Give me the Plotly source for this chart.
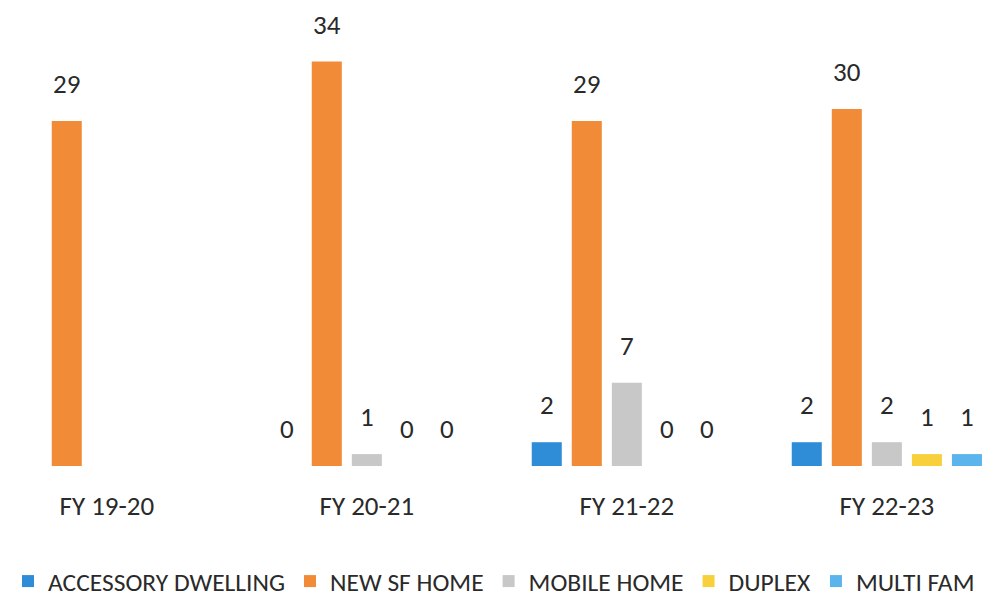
import plotly.graph_objects as go

categories = ["FY 19-20", "FY 20-21", "FY 21-22", "FY 22-23"]
series_names = ["ACCESSORY DWELLING", "NEW SF HOME", "MOBILE HOME", "DUPLEX", "MULTI FAM"]
accessory_dwelling = [None, 0, 2, 2]
new_sf_home = [29, 34, 29, 30]
mobile_home = [None, 1, 7, 2]
duplex = [None, 0, 0, 1]
multi_fam = [None, 0, 0, 1]
series_values = [accessory_dwelling, new_sf_home, mobile_home, duplex, multi_fam]
colors = ["#2F8DD8", "#F28B38", "#C8C8C8", "#F7D03C", "#5CB4EC"]

FONT = "Carlito, Calibri, Liberation Sans Narrow, PT Sans Narrow, Roboto Condensed, Liberation Sans, sans-serif"
TEXT_COLOR = "#2a2a2a"
BARGAP = 0.23
BARGROUPGAP = 0.25

xs = list(range(len(categories)))
fig = go.Figure()
for name, vals, col in zip(series_names, series_values, colors):
    fig.add_trace(go.Bar(x=xs, y=vals, name=name, marker=dict(color=col, line=dict(width=0))))

n = len(series_names)
slot = (1 - BARGAP) / n
annotations = []
for j, vals in enumerate(series_values):
    for i, v in enumerate(vals):
        if v is None:
            continue
        annotations.append(dict(
            x=i + (j - (n - 1) / 2) * slot, y=v, xref="x", yref="y",
            text=str(v), showarrow=False, yanchor="bottom", yshift=19,
            font=dict(family=FONT, size=27, color=TEXT_COLOR),
        ))

fig.update_layout(
    width=993, height=597,
    margin=dict(l=0, r=0, t=0, b=131),
    paper_bgcolor="white", plot_bgcolor="white",
    barmode="group", bargap=BARGAP, bargroupgap=BARGROUPGAP,
    font=dict(family=FONT, color=TEXT_COLOR),
    xaxis=dict(range=[-0.38, 3.439], tickmode="array", tickvals=xs, ticktext=categories,
               showgrid=False, zeroline=False, showline=False, ticks="",
               tickfont=dict(family=FONT, size=27, color=TEXT_COLOR), ticklabelstandoff=21),
    yaxis=dict(range=[0, 38.5], visible=False, showgrid=False, zeroline=False),
    legend=dict(orientation="h", x=0.0, xanchor="left", y=-0.253, yanchor="middle",
                font=dict(family=FONT, size=25.5, color=TEXT_COLOR), traceorder="normal",
                itemclick=False),
    annotations=annotations,
    showlegend=True,
)

fig.write_html("out.html")
